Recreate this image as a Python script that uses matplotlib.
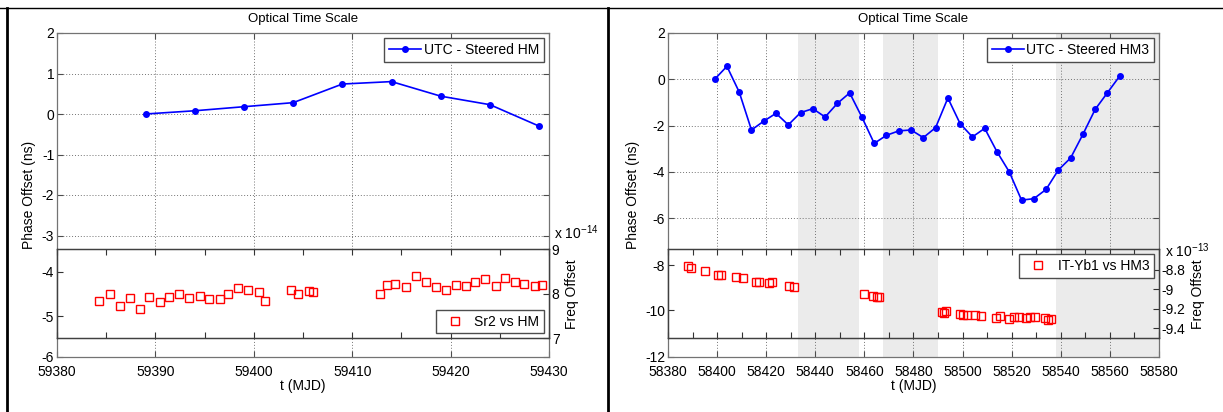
import matplotlib.pyplot as plt
from matplotlib.lines import Line2D
from matplotlib.ticker import FormatStrFormatter

plt.rcParams['font.family'] = ['Liberation Sans', 'DejaVu Sans']
plt.rcParams['font.size'] = 10
plt.rcParams['axes.unicode_minus'] = False
plt.rcParams['mathtext.fontset'] = 'custom'
plt.rcParams['mathtext.rm'] = 'Liberation Sans'
plt.rcParams['mathtext.default'] = 'regular'

# ---- left panel data: UTC - steered HM and Sr2 vs HM
hm_t = [59389, 59394, 59399, 59404, 59409, 59414, 59419, 59424, 59429]
hm_phase = [0.0, 0.08, 0.18, 0.28, 0.74, 0.80, 0.44, 0.23, -0.30]

sr2_t = [59384.3, 59385.4, 59386.4, 59387.4, 59388.4, 59389.4, 59390.5, 59391.4,
         59392.4, 59393.4, 59394.5, 59395.4, 59396.6, 59397.4, 59398.4, 59399.4,
         59400.5, 59401.1, 59403.8, 59404.5, 59405.6, 59406.0, 59412.8, 59413.5,
         59414.4, 59415.5, 59416.5, 59417.5, 59418.5, 59419.5, 59420.5, 59421.6,
         59422.5, 59423.5, 59424.6, 59425.5, 59426.5, 59427.5, 59428.6, 59429.3]
sr2_freq = [7.84, 8.00, 7.73, 7.91, 7.66, 7.92, 7.81, 7.92, 7.99, 7.91, 7.95, 7.88,
            7.89, 7.99, 8.12, 8.08, 8.03, 7.84, 8.09, 8.00, 8.07, 8.03, 8.00, 8.20,
            8.23, 8.16, 8.39, 8.27, 8.15, 8.09, 8.20, 8.17, 8.27, 8.33, 8.18, 8.36,
            8.26, 8.23, 8.18, 8.20]  # x 1e-14

# ---- right panel data: UTC - steered HM3 and IT-Yb1 vs HM3
hm3_t = [58399, 58404, 58409, 58414, 58419, 58424, 58429, 58434, 58439, 58444,
         58449, 58454, 58459, 58464, 58469, 58474, 58479, 58484, 58489, 58494,
         58499, 58504, 58509, 58514, 58519, 58524, 58529, 58534, 58539, 58544,
         58549, 58554, 58559, 58564]
hm3_phase = [0.0, 0.56, -0.55, -2.19, -1.81, -1.47, -1.97, -1.44, -1.27, -1.63,
             -1.04, -0.59, -1.64, -2.77, -2.42, -2.23, -2.19, -2.52, -2.09, -0.81,
             -1.92, -2.49, -2.12, -3.13, -4.00, -5.22, -5.16, -4.76, -3.92, -3.40,
             -2.38, -1.30, -0.58, 0.14]

yb1_t = [58388.3, 58389.3, 58395.2, 58400.4, 58401.6, 58407.5, 58410.4, 58415.8,
         58417.2, 58421.1, 58422.2, 58429.4, 58431.3, 58459.7, 58463.7, 58465.0,
         58466.1, 58491.5, 58492.5, 58493.4, 58498.8, 58500.1, 58501.7, 58504.9,
         58507.3, 58513.7, 58515.3, 58519.0, 58520.9, 58522.8, 58525.7, 58527.6,
         58529.4, 58533.7, 58534.6, 58536.1]
yb1_freq = [-8.763, -8.783, -8.817, -8.854, -8.860, -8.881, -8.887, -8.924,
            -8.931, -8.938, -8.931, -8.971, -8.981, -9.048, -9.065, -9.075,
            -9.075, -9.230, -9.246, -9.226, -9.256, -9.260, -9.260, -9.266,
            -9.277, -9.293, -9.277, -9.300, -9.283, -9.283, -9.290, -9.283,
            -9.283, -9.290, -9.310, -9.300]  # x 1e-13

shaded = [(58433, 58458), (58467.5, 58490), (58538, 58580)]

W, H = 1223, 412
fig = plt.figure(figsize=(W / 100, H / 100), dpi=100)


def box(x0, y0, x1, y1):
    return [x0 / W, 1 - y1 / H, (x1 - x0) / W, (y1 - y0) / H]


def style(ax, spine_col):
    for s in ax.spines.values():
        s.set_color(spine_col)
        s.set_linewidth(0.9)
    ax.xaxis.set_major_formatter(FormatStrFormatter('%d'))


def panel(x0, x1, xlim, xstep, ovstep, main_lim, main_ticks, ov_lim, ov_ticks,
          r_lim, r_ticks, t, phase, ft, freq, hm_label, f_label, f_loc, expo,
          expo_xy, spans=()):
    main = fig.add_axes(box(x0, 33, x1, 357))
    main.set_xlim(*xlim)
    main.set_ylim(*main_lim)
    main.set_xticks(range(xlim[0], xlim[1] + 1, xstep))
    main.set_yticks(main_ticks)
    main.grid(True, ls=(0, (1, 2)), color='0.45', lw=0.7)
    main.tick_params(direction='in', top=True, right=True, length=4, color='0.3',
                     labelsize=10, pad=2)
    main.tick_params(axis='x', pad=6)
    style(main, '0.45')
    for a, b in spans:
        main.axvspan(a, b, color='#ebebeb', lw=0, zorder=0)
    main.plot(t, phase, '-o', color='blue', lw=1.2, ms=4, label=hm_label)
    main.legend(loc='upper right', fancybox=False, edgecolor='0.3', framealpha=1,
                handlelength=2.3, borderaxespad=0.35, borderpad=0.35,
                handletextpad=0.2, fontsize=10)
    main.set_title('Optical Time Scale', fontsize=9.5, pad=8)
    main.set_xlabel('t (MJD)', labelpad=0)
    main.set_ylabel('Phase Offset (ns)', labelpad=4)

    ov = fig.add_axes(box(x0, 249.3, x1, 338.3))
    ov.set_facecolor('white')
    ov.set_xlim(*xlim)
    ov.set_ylim(*ov_lim)
    ov.set_yticks(ov_ticks)
    ov.set_xticks(range(xlim[0], xlim[1] + 1, ovstep))
    ov.tick_params(direction='in', top=True, right=True, labelbottom=False,
                   length=4, color='0.2', labelsize=10, pad=2)
    style(ov, '0.25')
    for a, b in spans:
        ov.axvspan(a, b, color='#ebebeb', lw=0, zorder=0)

    ovr = ov.twinx()
    ovr.set_ylim(*r_lim)
    ovr.set_yticks(r_ticks)
    ovr.yaxis.set_major_formatter(FormatStrFormatter('%g'))
    ovr.tick_params(direction='in', length=4, color='0.2', labelsize=10, pad=2)
    style(ovr, '0.25')
    ovr.plot(ft, freq, 's', ms=6, mfc='none', mec='red', mew=1, label=f_label)
    ovr.legend(loc=f_loc, fancybox=False, edgecolor='0.3', framealpha=1,
               borderaxespad=0.35, borderpad=0.35, handletextpad=0.4,
               fontsize=10)
    ovr.set_ylabel('Freq Offset', labelpad=4)
    fig.text(expo_xy[0] / W, 1 - expo_xy[1] / H, expo, fontsize=10,
             va='center', ha='left')


panel(57, 549, (59380, 59430), 10, 5, (-6, 2), [-6, -3, -2, -1, 0, 1, 2],
      (-5.5, -3.5), [-5, -4], (7, 9), [7, 8, 9], hm_t, hm_phase, sr2_t, sr2_freq,
      'UTC - Steered HM', 'Sr2 vs HM', 'lower right', r'x 10$^{-14}$', (554, 233))

panel(668, 1159, (58380, 58580), 20, 10, (-12, 2), [-12, -6, -4, -2, 0, 2],
      (-11.25, -7.3), [-10, -8], (-9.5, -8.594), [-9.4, -9.2, -9.0, -8.8],
      hm3_t, hm3_phase, yb1_t, yb1_freq, 'UTC - Steered HM3', 'IT-Yb1 vs HM3',
      'upper right', r'x 10$^{-13}$', (1165, 251), spans=shaded)

# outer table-like frame lines
fig.add_artist(Line2D([0, 1], [1 - 8 / H] * 2, color='black', lw=1,
                      transform=fig.transFigure))
fig.add_artist(Line2D([7 / W] * 2, [0, 1 - 8 / H], color='black', lw=2,
                      transform=fig.transFigure))
fig.add_artist(Line2D([608 / W] * 2, [0, 1 - 8 / H], color='black', lw=2,
                      transform=fig.transFigure))

fig.savefig('out.png', dpi=100)
